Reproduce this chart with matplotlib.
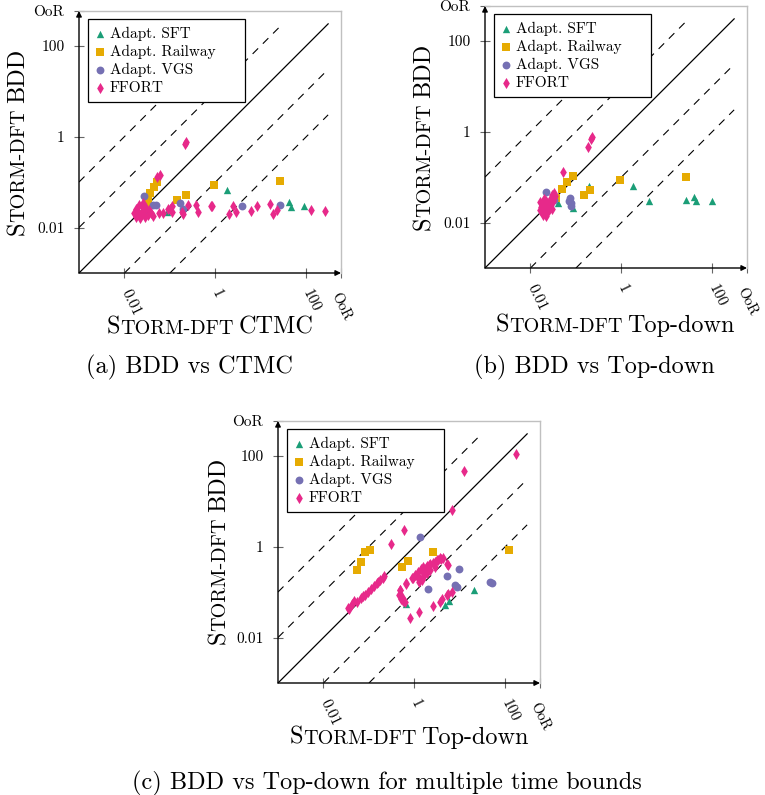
import matplotlib.pyplot as plt

plt.rcParams['font.family'] = 'cmr10'
plt.rcParams['axes.formatter.use_mathtext'] = True
plt.rcParams['mathtext.fontset'] = 'cm'

W, H = 765, 795
OOR = 10 ** 2.76
T = 300

series_names = ["Adapt. SFT", "Adapt. Railway", "Adapt. VGS", "FFORT"]
colors = ["#1b9e77", "#e6ab02", "#7570b3", "#e7298a"]
markers = ["^", "s", "o", "d"]
sizes = [28, 32, 32, 32]

tick_vals = [0.01, 1, 100, OOR]
tick_labels = ["0.01", "1", "100", "OoR"]
factors = [1, 10, 100, 0.1, 0.01]

# (a) BDD vs CTMC
a_sft_x = [1.8, 0.087, 41, 45, 90]
a_sft_y = [0.066, 0.022, 0.037, 0.028, 0.029]
a_rail_x = [0.052, 0.045, 0.036, 0.033, 0.031, 0.145, 0.22, 0.91, 26]
a_rail_y = [0.10, 0.079, 0.056, 0.041, 0.034, 0.040, 0.052, 0.086, 0.105]
a_vgs_x = [0.027, 0.043, 0.049, 0.030, 0.17, 0.19, 3.9, 26]
a_vgs_y = [0.049, 0.031, 0.031, 0.023, 0.035, 0.026, 0.030, 0.031]
a_ffort_x = [0.21, 0.22, 0.051, 0.06,
             0.018, 0.020, 0.022, 0.018, 0.024, 0.026, 0.028, 0.033, 0.038, 0.022,
             0.043, 0.058, 0.069, 0.019, 0.025, 0.021, 0.016, 0.030, 0.035,
             0.10, 0.109, 0.18, 0.25, 0.37, 0.42, 0.78, 0.83, 0.19, 0.091, 0.11,
             2.0, 2.4, 2.8, 6.0, 8.0, 16, 18.6, 23, 123, 257]
a_ffort_y = [0.68, 0.74, 0.13, 0.14,
             0.025, 0.022, 0.019, 0.017, 0.029, 0.034, 0.017, 0.019, 0.0205, 0.016,
             0.018, 0.0205, 0.0205, 0.0205, 0.023, 0.031, 0.021, 0.027, 0.024,
             0.025, 0.029, 0.022, 0.031, 0.031, 0.022, 0.030, 0.029, 0.020, 0.026, 0.022,
             0.020, 0.029, 0.022, 0.023, 0.030, 0.033, 0.020, 0.024, 0.024, 0.023]

# (b) BDD vs Top-down
b_sft_x = [1.75, 4.1, 26, 39, 44, 96, 0.085, 0.041, 0.197]
b_sft_y = [0.065, 0.029, 0.032, 0.036, 0.029, 0.029, 0.021, 0.027, 0.063]
b_rail_x = [26, 0.93, 0.087, 0.064, 0.049, 0.036, 0.2, 0.153]
b_rail_y = [0.10, 0.087, 0.107, 0.077, 0.054, 0.034, 0.053, 0.040]
b_vgs_x = [0.022, 0.030, 0.027, 0.033, 0.069, 0.074, 0.076, 0.076]
b_vgs_y = [0.048, 0.031, 0.024, 0.032, 0.029, 0.035, 0.027, 0.023]
b_ffort_x = [0.22, 0.21, 0.18, 0.051,
             0.016, 0.017, 0.018, 0.019, 0.020, 0.021, 0.022, 0.023, 0.024, 0.025,
             0.026, 0.027, 0.028, 0.030, 0.031, 0.033, 0.018, 0.016, 0.022, 0.029,
             0.035, 0.020]
b_ffort_y = [0.76, 0.67, 0.45, 0.13,
             0.028, 0.022, 0.018, 0.015, 0.020, 0.025, 0.030, 0.017, 0.022, 0.019,
             0.028, 0.024, 0.035, 0.040, 0.030, 0.045, 0.026, 0.019, 0.014, 0.020,
             0.038, 0.033]

# (c) BDD vs Top-down for multiple time bounds
c_sft_x = [0.65, 4.6, 5.7, 20]
c_sft_y = [0.055, 0.052, 0.062, 0.11]
c_rail_x = [0.054, 0.067, 0.083, 0.106, 0.54, 0.71, 2.5, 120]
c_rail_y = [0.31, 0.45, 0.74, 0.85, 0.35, 0.47, 0.74, 0.82]
c_vgs_x = [1.3, 5.3, 9.5, 2.0, 7.8, 8.6, 45, 50]
c_vgs_y = [1.6, 0.23, 0.32, 0.115, 0.14, 0.13, 0.17, 0.16]
c_ffort_x = [170, 12.3, 6.8, 0.59, 0.3, 0.79, 1.29,
             0.035, 0.036, 0.042, 0.047, 0.055, 0.066, 0.075, 0.082, 0.093, 0.11,
             0.13, 0.148, 0.16, 0.176, 0.2, 0.215,
             0.47, 0.46, 0.51, 0.61, 0.48, 0.52, 0.55, 0.66, 0.66, 0.87, 0.93,
             1.02, 1.2, 1.22, 1.38, 1.55, 1.58, 1.8, 1.87, 2.1, 2.2, 2.6, 2.8,
             2.8, 3.2, 3.3, 3.7, 3.9, 4.2, 5.1, 5.5, 1.22, 1.45, 1.87, 2.2,
             1.63, 1.29, 1.55, 2.6, 3.7, 4.0, 5.1, 5.6, 6.6]
c_ffort_y = [109, 46, 6.4, 2.3, 1.12, 0.027, 0.036,
             0.044, 0.043, 0.055, 0.062, 0.06, 0.073, 0.08, 0.087, 0.098, 0.115,
             0.136, 0.16, 0.17, 0.185, 0.2, 0.22,
             0.11, 0.085, 0.072, 0.06, 0.11, 0.079, 0.062, 0.156, 0.15, 0.2, 0.2,
             0.24, 0.23, 0.27, 0.32, 0.28, 0.36, 0.33, 0.38, 0.39, 0.42, 0.44, 0.46,
             0.36, 0.51, 0.5, 0.56, 0.54, 0.55, 0.41, 0.39, 0.2, 0.18, 0.26, 0.31,
             0.24, 0.17, 0.21, 0.05, 0.06, 0.072, 0.085, 0.09, 0.10]

panels = [
    dict(rect=(79, 273), data=[(a_sft_x, a_sft_y), (a_rail_x, a_rail_y),
                               (a_vgs_x, a_vgs_y), (a_ffort_x, a_ffort_y)],
         xlab="CTMC", xlab_pos=(210, 334), ylab_pos=(24, 142),
         caption="(a) BDD vs CTMC", cap_pos=(189, 373)),
    dict(rect=(485, 268), data=[(b_sft_x, b_sft_y), (b_rail_x, b_rail_y),
                                (b_vgs_x, b_vgs_y), (b_ffort_x, b_ffort_y)],
         xlab="Top-down", xlab_pos=(615, 332), ylab_pos=(430, 137),
         caption="(b) BDD vs Top-down", cap_pos=(594, 373)),
    dict(rect=(278, 683), data=[(c_sft_x, c_sft_y), (c_rail_x, c_rail_y),
                                (c_vgs_x, c_vgs_y), (c_ffort_x, c_ffort_y)],
         xlab="Top-down", xlab_pos=(409, 744), ylab_pos=(225, 551),
         caption="(c) BDD vs Top-down for multiple time bounds", cap_pos=(387, 789)),
]

fig = plt.figure(figsize=(W / 100, H / 100), dpi=100)
renderer = fig.canvas.get_renderer()

BIG, SMALL = 17.5, 14.5


def sc_label(x, y, pieces, rotation=0):
    # fake small caps: pieces of (text, fontsize, gap before in px), baseline at x/y (px from top-left)
    texts, lens = [], []
    for s, fs, gap in pieces:
        t = fig.text(0, 0, s, fontsize=fs, rotation=rotation, rotation_mode='anchor',
                     ha='left', va='baseline')
        bb = t.get_window_extent(renderer)
        texts.append((t, gap))
        lens.append((bb.width if rotation == 0 else bb.height) + gap)
    pos = -sum(lens) / 2
    for (t, gap), l in zip(texts, lens):
        if rotation == 0:
            t.set_position(((x + pos + gap) / W, (H - y) / H))
        else:
            t.set_position((x / W, (H - y + pos + gap) / H))
        pos += l


for p in panels:
    left, bottom = p["rect"]
    ax = fig.add_axes((left / W, (H - bottom) / H, 262 / W, 262 / H))
    ax.set_xscale('log')
    ax.set_yscale('log')
    ax.set_xlim(1e-3, OOR)
    ax.set_ylim(1e-3, OOR)
    ax.minorticks_off()

    for f in factors:
        x0 = max(1e-3, 1e-3 / f)
        x1 = min(T, T / f)
        if f == 1:
            ax.plot([x0, x1], [x0 * f, x1 * f], color='black', lw=0.9, zorder=1)
        else:
            ax.plot([x0, x1], [x0 * f, x1 * f], color='black', lw=0.8,
                    dashes=(7, 6), zorder=1)

    for (xs, ys), name, c, m, s in zip(p["data"], series_names, colors, markers, sizes):
        ax.scatter(xs, ys, s=s, marker=m, color=c, linewidths=0, label=name,
                   zorder=3, clip_on=False)

    ax.set_xticks(tick_vals, tick_labels, rotation=-64, rotation_mode='anchor',
                  ha='left', va='center', fontsize=11)
    ax.set_yticks(tick_vals, tick_labels, fontsize=11)
    ax.tick_params(direction='inout', length=7, width=0.8, color='#666666')
    ax.tick_params(axis='y', pad=7)
    ax.tick_params(axis='x', pad=9)
    oor_lab = ax.get_xticklabels()[-1]
    oor_lab.set_va('top')
    oor_lab.set_fontsize(10.5)

    for side in ['top', 'right']:
        ax.spines[side].set_color('#c0c0c0')
        ax.spines[side].set_linewidth(1.0)
    for side in ['left', 'bottom']:
        ax.spines[side].set_visible(False)

    ax.annotate('', xy=(0, 1), xytext=(0, 0), xycoords='axes fraction',
                arrowprops=dict(arrowstyle='-|>', lw=1.0, color='black',
                                shrinkA=0, shrinkB=0, mutation_scale=8))
    ax.annotate('', xy=(1, 0), xytext=(0, 0), xycoords='axes fraction',
                arrowprops=dict(arrowstyle='-|>', lw=1.0, color='black',
                                shrinkA=0, shrinkB=0, mutation_scale=8))

    leg = ax.legend(loc='upper left', bbox_to_anchor=(0.033, 0.0, 0.6, 0.968),
                    mode='expand', fontsize=11, frameon=True, fancybox=False,
                    edgecolor='black', framealpha=1, borderpad=0.5,
                    labelspacing=0.25, handlelength=0.6, handletextpad=0.35,
                    scatterpoints=1, borderaxespad=0)
    leg.get_frame().set_linewidth(0.9)

    xl, yl = p["xlab_pos"]
    sc_label(xl, yl, [("S", BIG, 0), ("TORM-DFT", SMALL, 0), (p["xlab"], BIG, 5)])
    yx, yy = p["ylab_pos"]
    sc_label(yx, yy, [("S", BIG, 0), ("TORM-DFT", SMALL, 0), ("BDD", BIG, 5)], rotation=90)

    cx, cy = p["cap_pos"]
    fig.text(cx / W, (H - cy) / H, p["caption"], fontsize=BIG, ha='center', va='baseline')

fig.savefig("out.png", dpi=100)
